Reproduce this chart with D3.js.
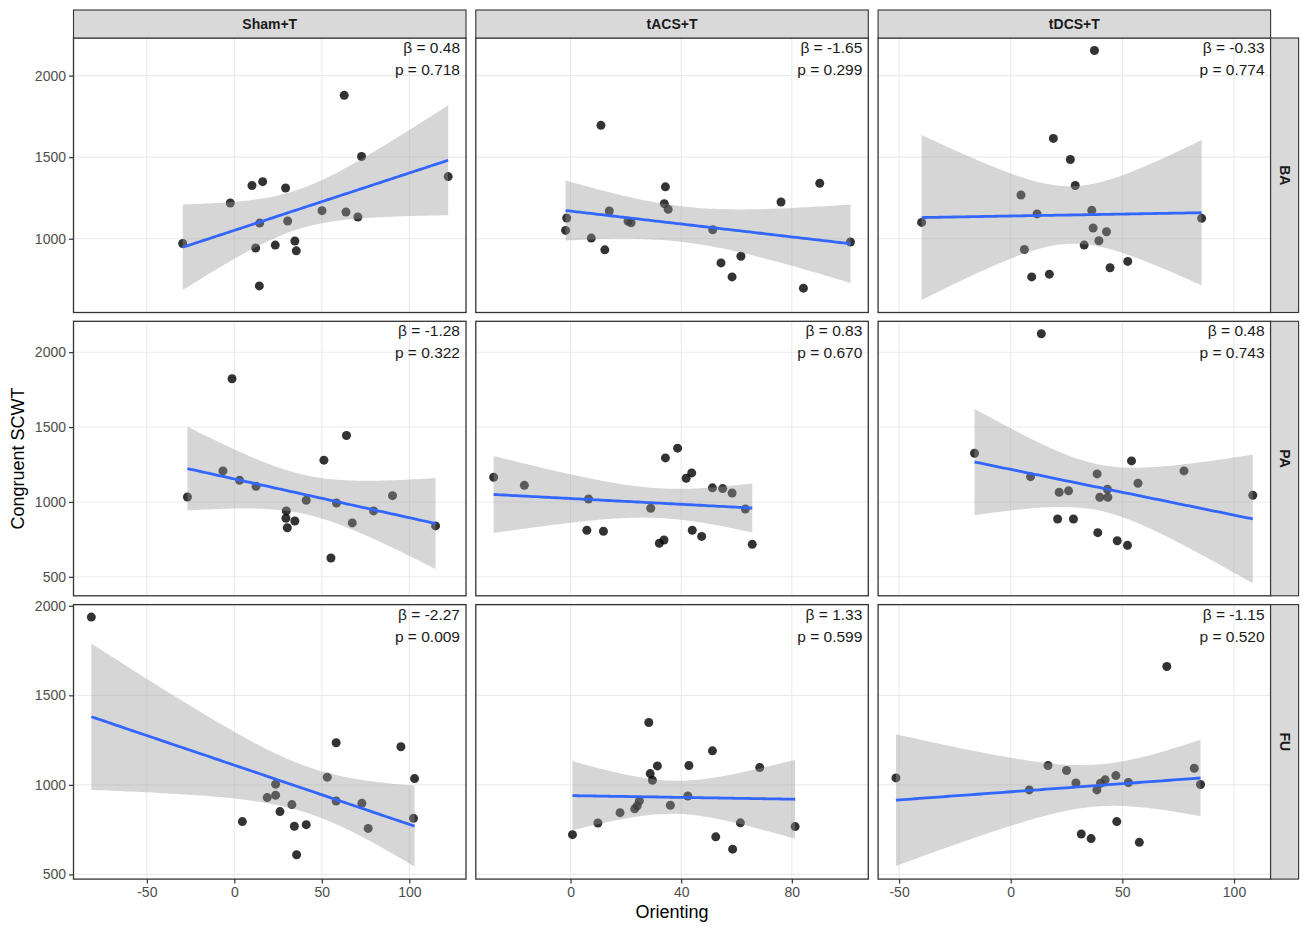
<!DOCTYPE html>
<html>
<head>
<meta charset="utf-8">
<title>Congruent SCWT vs Orienting</title>
<script src="https://cdn.jsdelivr.net/npm/d3@7"></script>
<style>
  body { margin: 0; background: #fff; }
  svg { font-family: "Liberation Sans", Arial, Helvetica, sans-serif; }
</style>
</head>
<body>
<script>
var groups = ["Sham+T", "tACS+T", "tDCS+T"];
var sessions = ["BA", "PA", "FU"];

// Orienting (x) and Congruent SCWT (y), one pair per facet
var shamBA_x = [-29.5, -2.3, 10.1, 16.2, 14.5, 12.2, 14.3, 23.4, 29.3, 30.5, 34.6, 35.4, 50.1, 62.8, 63.8, 70.6, 72.7, 122.2];
var shamBA_y = [971, 1219, 1326, 1350, 1096, 943, 711, 961, 1311, 1109, 986, 926, 1172, 1879, 1164, 1133, 1504, 1381];
var tacsBA_x = [-1.4, -1.8, 7.5, 11.0, 12.4, 14.0, 20.8, 21.9, 34.3, 33.9, 35.3, 51.4, 54.4, 58.4, 61.6, 76.1, 90.1, 84.2, 101.2];
var tacsBA_y = [1127, 1051, 1004, 1695, 932, 1170, 1107, 1098, 1318, 1215, 1180, 1055, 852, 766, 893, 1225, 1340, 697, 980];
var tdcsBA_x = [-39.9, 37.5, 19.1, 26.7, 28.9, 4.6, 11.8, 36.3, 36.9, 42.9, 39.5, 32.9, 6.1, 9.4, 17.3, 44.5, 52.4, 85.5];
var tdcsBA_y = [1100, 2154, 1615, 1486, 1326, 1268, 1152, 1174, 1066, 1043, 988, 961, 934, 766, 783, 822, 861, 1125];

var shamPA_x = [-26.8, -1.3, -6.5, 3.0, 12.4, 29.7, 29.5, 30.3, 34.6, 41.1, 51.2, 64.1, 55.2, 58.4, 67.4, 79.6, 90.4, 115.0];
var shamPA_y = [1033, 1823, 1207, 1145, 1105, 940, 891, 828, 873, 1011, 1279, 1444, 626, 993, 860, 940, 1042, 840];
var tacsPA_x = [-27.8, -16.7, 6.5, 5.9, 11.9, 29.0, 34.3, 38.7, 41.8, 43.8, 32.1, 33.8, 44.0, 47.4, 51.3, 55.0, 58.4, 63.2, 65.7];
var tacsPA_y = [1165, 1111, 1020, 811, 804, 958, 1294, 1359, 1158, 1194, 724, 746, 811, 770, 1094, 1089, 1060, 953, 717];
var tdcsPA_x = [13.7, -16.2, 8.9, 21.7, 25.9, 38.7, 39.9, 43.5, 43.3, 54.1, 57.0, 77.6, 108.4, 21.0, 28.1, 39.0, 47.7, 52.3];
var tdcsPA_y = [2123, 1325, 1169, 1065, 1074, 1187, 1031, 1031, 1085, 1274, 1125, 1207, 1045, 886, 886, 795, 741, 710];

var shamFU_x = [-81.7, 4.6, 23.6, 23.6, 18.8, 32.9, 26.1, 34.3, 41.1, 35.6, 53.1, 58.2, 58.2, 72.9, 76.5, 95.2, 103.0, 102.4];
var shamFU_y = [1937, 795, 1004, 942, 929, 890, 851, 769, 778, 610, 1043, 1235, 910, 897, 757, 1213, 1035, 813];
var tacsFU_x = [0.7, 9.9, 17.9, 23.2, 24.1, 24.9, 28.3, 28.8, 29.6, 31.4, 36.1, 42.4, 42.8, 51.3, 52.5, 58.6, 61.4, 68.4, 81.2];
var tacsFU_y = [722, 787, 845, 866, 883, 911, 1348, 1063, 1026, 1106, 886, 938, 1108, 1190, 710, 641, 788, 1097, 767];
var tdcsFU_x = [-51.4, 8.3, 16.7, 25.0, 29.2, 38.6, 40.2, 42.3, 47.1, 52.7, 69.9, 82.2, 85.0, 47.5, 31.6, 36.0, 57.6];
var tdcsFU_y = [1039, 972, 1108, 1080, 1011, 972, 1009, 1028, 1052, 1013, 1661, 1093, 1002, 795, 726, 700, 679];

var betaLabels = [["0.48", "-1.65", "-0.33"], ["-1.28", "0.83", "0.48"], ["-2.27", "1.33", "-1.15"]];
var pLabels = [["0.718", "0.299", "0.774"], ["0.322", "0.670", "0.743"], ["0.009", "0.599", "0.520"]];

var xTicks = [[-50, 0, 50, 100], [0, 40, 80], [-50, 0, 50, 100]];
var yTicks = [500, 1000, 1500, 2000];

var width = 1309, height = 932;
var plotLeft = 73.5, plotTop = 38, panelW = 392.5, panelH = 274.5, gapX = 9.8, gapY = 8.8;
var stripH = 28, stripW = 28;

var xs = [[shamBA_x, tacsBA_x, tdcsBA_x], [shamPA_x, tacsPA_x, tdcsPA_x], [shamFU_x, tacsFU_x, tdcsFU_x]];
var ys = [[shamBA_y, tacsBA_y, tdcsBA_y], [shamPA_y, tacsPA_y, tdcsPA_y], [shamFU_y, tacsFU_y, tdcsFU_y]];

// t quantile (0.975) via Cornish-Fisher expansion
function tq(df) {
    var z = 1.959964;
    return z + (Math.pow(z, 3) + z) / (4 * df)
        + (5 * Math.pow(z, 5) + 16 * Math.pow(z, 3) + 3 * z) / (96 * df * df)
        + (3 * Math.pow(z, 7) + 19 * Math.pow(z, 5) + 17 * Math.pow(z, 3) - 15 * z) / (384 * df * df * df);
}

// linear model fit with 95% confidence band, like geom_smooth(method = "lm")
function lmFit(x, y) {
    var n = x.length, mx = d3.mean(x), my = d3.mean(y);
    var sxx = d3.sum(x, function(v) { return (v - mx) * (v - mx); });
    var sxy = d3.sum(x, function(v, i) { return (v - mx) * (y[i] - my); });
    var b = sxy / sxx, a = my - b * mx;
    var rss = d3.sum(x, function(v, i) { var r = y[i] - (a + b * v); return r * r; });
    var s = Math.sqrt(rss / (n - 2)), t = tq(n - 2);
    var ext = d3.extent(x);
    return d3.range(80).map(function(i) {
        var xv = ext[0] + (ext[1] - ext[0]) * i / 79;
        var fv = a + b * xv;
        var se = s * Math.sqrt(1 / n + (xv - mx) * (xv - mx) / sxx);
        return {x: xv, y: fv, lo: fv - t * se, hi: fv + t * se};
    });
}

var fits = xs.map(function(row, r) {
    return row.map(function(xv, c) { return lmFit(xv, ys[r][c]); });
});

function expand(ext) {
    var pad = (ext[1] - ext[0]) * 0.05;
    return [ext[0] - pad, ext[1] + pad];
}

var xScales = groups.map(function(g, c) {
    var all = d3.merge([xs[0][c], xs[1][c], xs[2][c]]);
    return d3.scaleLinear().domain(expand(d3.extent(all))).range([0, panelW]);
});
var yScales = sessions.map(function(s, r) {
    var all = d3.merge(ys[r]);
    fits[r].forEach(function(f) {
        f.forEach(function(d) { all.push(d.lo, d.hi); });
    });
    return d3.scaleLinear().domain(expand(d3.extent(all))).range([panelH, 0]);
});

function inDomain(vals, scale) {
    var dom = scale.domain();
    return vals.filter(function(v) { return v >= dom[0] && v <= dom[1]; });
}

var svg = d3.select("body").append("svg")
    .attr("width", width)
    .attr("height", height);

sessions.forEach(function(sess, r) {
    groups.forEach(function(grp, c) {
        var x = xScales[c], y = yScales[r];
        var px = plotLeft + c * (panelW + gapX), py = plotTop + r * (panelH + gapY);
        var g = svg.append("g").attr("transform", "translate(" + px + "," + py + ")");

        g.append("rect").attr("width", panelW).attr("height", panelH).attr("fill", "#fff");

        g.selectAll("line.gx")
            .data(inDomain(xTicks[c], x))
            .enter().append("line")
            .attr("class", "gx")
            .attr("x1", function(d) { return x(d); }).attr("x2", function(d) { return x(d); })
            .attr("y1", 0).attr("y2", panelH)
            .attr("stroke", "#ebebeb").attr("stroke-width", 1.1);
        g.selectAll("line.gy")
            .data(inDomain(yTicks, y))
            .enter().append("line")
            .attr("class", "gy")
            .attr("y1", function(d) { return y(d); }).attr("y2", function(d) { return y(d); })
            .attr("x1", 0).attr("x2", panelW)
            .attr("stroke", "#ebebeb").attr("stroke-width", 1.1);

        var pts = xs[r][c].map(function(v, i) { return {x: v, y: ys[r][c][i]}; });
        g.selectAll("circle")
            .data(pts)
            .enter().append("circle")
            .attr("cx", function(d) { return x(d.x); })
            .attr("cy", function(d) { return y(d.y); })
            .attr("r", 4.5)
            .attr("fill", "#000")
            .attr("fill-opacity", 0.8);

        var band = d3.area()
            .x(function(d) { return x(d.x); })
            .y0(function(d) { return y(d.lo); })
            .y1(function(d) { return y(d.hi); });
        g.append("path").datum(fits[r][c])
            .attr("d", band)
            .attr("fill", "#999999")
            .attr("fill-opacity", 0.4);

        var line = d3.line()
            .x(function(d) { return x(d.x); })
            .y(function(d) { return y(d.y); });
        g.append("path").datum(fits[r][c])
            .attr("d", line)
            .attr("fill", "none")
            .attr("stroke", "#3366ff")
            .attr("stroke-width", 2.8);

        g.append("rect").attr("width", panelW).attr("height", panelH)
            .attr("fill", "none").attr("stroke", "#333").attr("stroke-width", 1.3);

        g.append("text")
            .attr("x", panelW - 6).attr("y", 15)
            .attr("text-anchor", "end")
            .attr("font-size", 15.5).attr("fill", "#1a1a1a")
            .text("\u03b2 = " + betaLabels[r][c]);
        g.append("text")
            .attr("x", panelW - 6).attr("y", 37)
            .attr("text-anchor", "end")
            .attr("font-size", 15.5).attr("fill", "#1a1a1a")
            .text("p = " + pLabels[r][c]);

        // axes on the outer panels only
        if (c === 0) {
            var ay = g.append("g")
                .call(d3.axisLeft(y)
                    .tickValues(inDomain(yTicks, y))
                    .tickSize(4.5).tickPadding(3).tickFormat(function(d) { return String(d); }));
            styleAxis(ay);
        }
        if (r === sessions.length - 1) {
            var ax = g.append("g")
                .attr("transform", "translate(0," + panelH + ")")
                .call(d3.axisBottom(x)
                    .tickValues(inDomain(xTicks[c], x))
                    .tickSize(4.5).tickPadding(3).tickFormat(function(d) { return String(d); }));
            styleAxis(ax);
        }
    });
});

function styleAxis(a) {
    a.select(".domain").remove();
    a.selectAll(".tick line").attr("stroke", "#333").attr("stroke-width", 1.2);
    a.selectAll(".tick text").attr("fill", "#4d4d4d").attr("font-size", 14)
        .style("font-family", "'Liberation Sans', Arial, sans-serif");
}

// column strips
groups.forEach(function(grp, c) {
    var px = plotLeft + c * (panelW + gapX);
    svg.append("rect")
        .attr("x", px).attr("y", plotTop - stripH).attr("width", panelW).attr("height", stripH)
        .attr("fill", "#d9d9d9").attr("stroke", "#333").attr("stroke-width", 1.1);
    svg.append("text")
        .attr("x", px + panelW / 2).attr("y", plotTop - stripH / 2)
        .attr("dy", "0.35em").attr("text-anchor", "middle")
        .attr("font-size", 14).attr("font-weight", "bold").attr("fill", "#1a1a1a")
        .text(grp);
});

// row strips
sessions.forEach(function(sess, r) {
    var px = plotLeft + 3 * panelW + 2 * gapX, py = plotTop + r * (panelH + gapY);
    svg.append("rect")
        .attr("x", px).attr("y", py).attr("width", stripW).attr("height", panelH)
        .attr("fill", "#d9d9d9").attr("stroke", "#333").attr("stroke-width", 1.1);
    svg.append("text")
        .attr("transform", "translate(" + (px + stripW / 2) + "," + (py + panelH / 2) + ") rotate(90)")
        .attr("dy", "0.35em").attr("text-anchor", "middle")
        .attr("font-size", 14).attr("font-weight", "bold").attr("fill", "#1a1a1a")
        .text(sess);
});

var plotBottom = plotTop + 3 * panelH + 2 * gapY;
svg.append("text")
    .attr("x", plotLeft + (3 * panelW + 2 * gapX) / 2).attr("y", 918)
    .attr("text-anchor", "middle").attr("font-size", 18).attr("fill", "#000")
    .text("Orienting");
svg.append("text")
    .attr("transform", "translate(24," + (plotTop + (plotBottom - plotTop) / 2) + ") rotate(-90)")
    .attr("text-anchor", "middle").attr("font-size", 18).attr("fill", "#000")
    .text("Congruent SCWT");
</script>
</body>
</html>
